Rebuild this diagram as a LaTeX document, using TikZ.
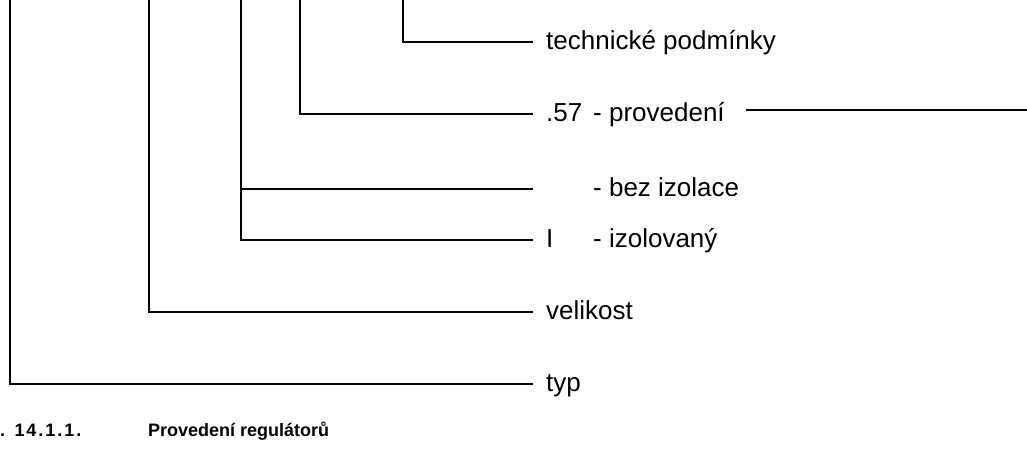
\documentclass[tikz,border=0pt]{standalone}
\usepackage{fontspec}
\setmainfont{Liberation Sans}
\usetikzlibrary{positioning}

\begin{document}
\begin{tikzpicture}[
  x=1pt,y=-1pt,
  item/.style={anchor=west,inner xsep=13pt,inner ysep=0pt,text height=18pt,text depth=4pt,font=\fontsize{26}{30}\selectfont},
  caption/.style={anchor=base west,inner sep=0pt,font=\fontsize{18}{22}\selectfont\bfseries},
  branch/.style={line width=2pt}
]
\useasboundingbox (0,0) rectangle (1027,469);
% top ends of the vertical lines
\coordinate (typTop) at (10,0);
\coordinate (velTop) at (149,0);
\coordinate (izoTop) at (241,0);
\coordinate (provTop) at (300,0);
\coordinate (techTop) at (403,0);
% ends of the branches
\coordinate (typEnd) at (533,384);
\coordinate (velEnd) at (533,312);
\coordinate (izoEnd) at (533,240);
\coordinate (bezEnd) at (533,189);
\coordinate (provEnd) at (533,114);
\coordinate (techEnd) at (533,42);
\coordinate (provTail) at (1027,110);

\node[item,right=0pt of typEnd] (typ) {typ};
\node[item,right=0pt of velEnd] (vel) {velikost};
\node[item,right=0pt of izoEnd] (izoI) {I};
\node[item,right=47pt of izoEnd] (izo) {- izolovaný};
\node[item,right=47pt of bezEnd] (bez) {- bez izolace};
\node[item,right=0pt of provEnd] (num) {.57};
\node[item,right=47pt of provEnd] (prov) {- provedení};
\node[item,right=0pt of techEnd] (tech) {technické podmínky};

\draw[branch] (typTop) |- (typEnd);
\draw[branch] (velTop) |- (velEnd);
\draw[branch] (izoTop) |- (izoEnd);
\draw[branch] (bezEnd -| izoTop) -- (bezEnd);
\draw[branch] (provTop) |- (provEnd);
\draw[branch] (techTop) |- (techEnd);
\draw[branch] ([xshift=8pt]prov.east |- provTail) -- (provTail);

% caption
\node[caption] (capNum) at (0,436) {\addfontfeature{LetterSpace=11}. 14.1.1.};
\node[caption] (capText) at (148,436) {Provedení regulátorů};
\end{tikzpicture}
\end{document}
